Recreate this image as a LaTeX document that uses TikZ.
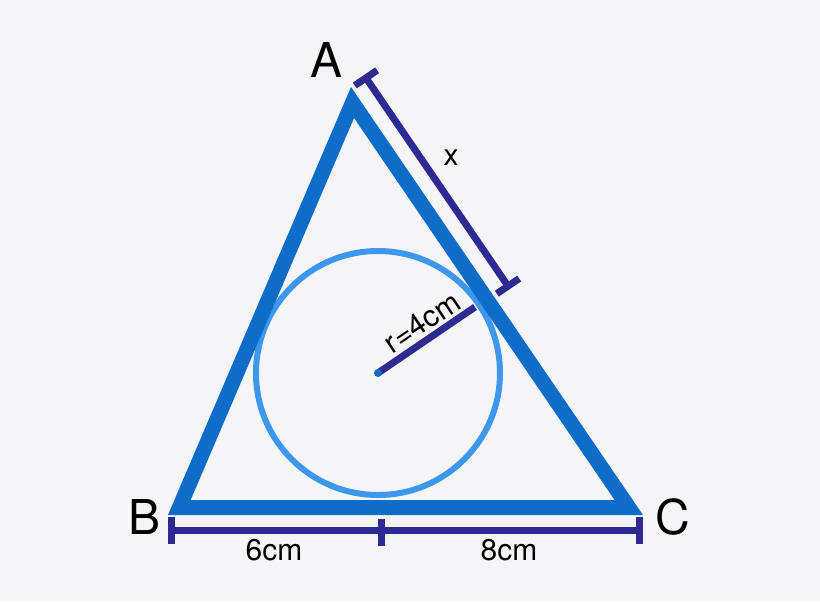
\documentclass[tikz,border=0pt]{standalone}
\usepackage{fontspec}
\setmainfont{TeX Gyre Heros}
\usetikzlibrary{arrows.meta}
\definecolor{triblue}{HTML}{0F6DC8}
\definecolor{circblue}{HTML}{3D97EC}
\definecolor{dimblue}{HTML}{2E2A91}
\definecolor{bggrey}{HTML}{F5F5F7}
\tikzset{
  side/.style={draw=triblue,line width=7.5pt,line join=miter},
  incircle/.style={draw=circblue,line width=3pt},
  dimline/.style={draw=dimblue,line width=3.5pt},
  dimends/.style={{Bar[width=13.5pt]}-{Bar[width=13.5pt]}},
  vlabel/.style={font=\fontsize{24}{28}\selectfont,inner sep=0pt},
  mlabel/.style={font=\fontsize{15}{18}\selectfont,inner sep=0pt}
}
\begin{document}
\begin{tikzpicture}[x=0.5pt,y=-0.5pt]
\fill[bggrey] (0,0) rectangle (820,601);
\useasboundingbox (0,0) rectangle (820,601);

\coordinate (A) at (352.5,102.5);
\coordinate (B) at (179.3,507.5);
\coordinate (C) at (628.8,507.5);
\coordinate (O) at (378,373);
\coordinate (R) at (475,307);

\coordinate (x1) at (364,75);
\coordinate (x2) at (510,289);
\coordinate (b1) at (168,530);
\coordinate (b2) at (643,530);
\coordinate (m1) at (381.5,519);
\coordinate (m2) at (381.5,546);

% triangle and its incircle
\draw[incircle] (O) circle (122);
\draw[side] (A) -- (B) -- (C) -- cycle;

% dimensions
\draw[dimline,dimends] (x1) -- (x2);
\draw[dimline,dimends] (b1) -- (b2);
\draw[dimline] (m1) -- (m2);
\draw[dimline] (O) -- (R);
\fill[triblue] (O) circle (4);

\node[vlabel] (lA) at (327,60)  {A};
\node[vlabel] (lB) at (145,517) {B};
\node[vlabel] (lC) at (673,517) {C};
\node[mlabel] (lx) at (451,158) {x};
\node[mlabel] (l6) at (274,550) {6cm};
\node[mlabel] (l8) at (509,550) {8cm};
\node[mlabel,rotate=34] (lr) at (422,322) {r=4cm};
\end{tikzpicture}
\end{document}
